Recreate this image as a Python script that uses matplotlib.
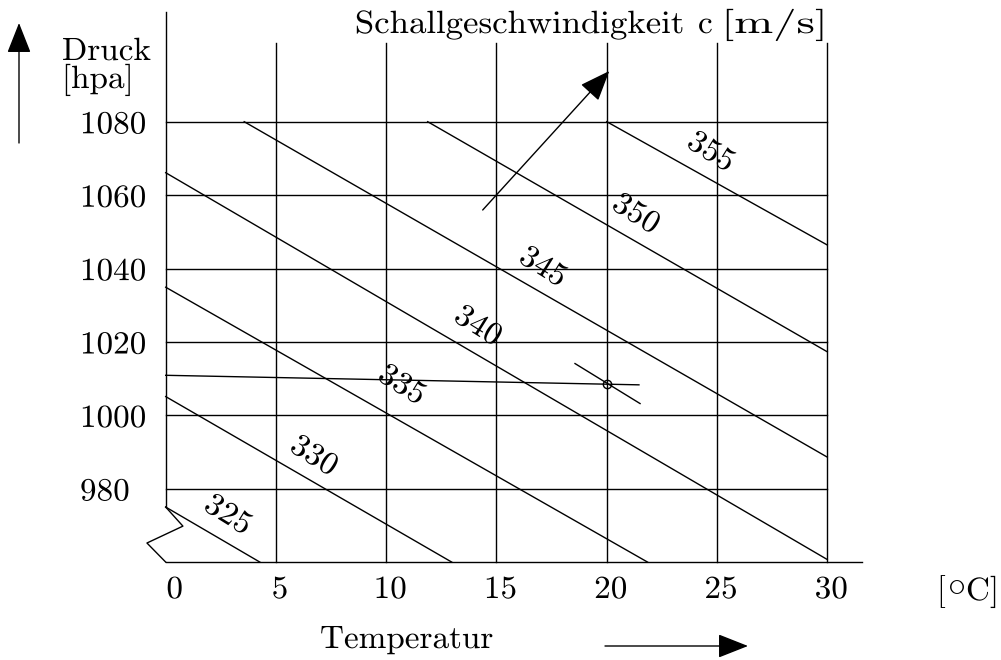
import matplotlib
matplotlib.use('Agg')
import matplotlib.pyplot as plt
from matplotlib import patheffects
from matplotlib.transforms import Affine2D

plt.rcParams['font.family'] = ['cmr10', 'DejaVu Serif']
plt.rcParams['mathtext.fontset'] = 'cm'
plt.rcParams['axes.unicode_minus'] = False

# ---------------- data ----------------
temp_ticks = [0, 5, 10, 15, 20, 25, 30]
temp_labels = ['0', '5', '10', '15', '20', '25', '30']
press_ticks = [980, 1000, 1020, 1040, 1060, 1080]
press_labels = ['980', '1000', '1020', '1040', '1060', '1080']

speeds = [325, 330, 335, 340, 345, 350, 355]
iso_start_T = [0.0, 0.0, 0.0, 0.0, 3.56, 11.88, 20.0]
iso_start_p = [975.0, 1005.1, 1034.9, 1066.1, 1080.0, 1080.0, 1080.0]
iso_end_T = [4.27, 12.97, 21.85, 30.0, 30.0, 30.0, 30.0]
iso_end_p = [960.0, 960.0, 960.0, 960.7, 988.6, 1017.3, 1046.4]

meas_T = 20.0
meas_p = 1008.4
ref_line_T = [0.0, 21.46]
ref_line_p = [1010.9, 1008.3]
meas_seg_T = [18.56, 21.51]
meas_seg_p = [1014.1, 1003.2]

break_T = [0.0, 0.78, -0.85, 0.0]
break_p = [975.0, 969.8, 965.2, 960.0]

T_min, T_max = 0, 30
p_min, p_max = 960, 1080

# ---------------- layout helpers ----------------
X0, XS = 165.7, 22.053      # pixel of T=0, px per degC
Y0, YS = 121.7, 3.67        # pixel (from top) of p=1080, px per hPa
W, H = 1001, 660


def px(x, y):
    return ((x - X0) / XS, p_max - (y - Y0) / YS)


class Stretch(patheffects.AbstractPathEffect):
    def __init__(self, sx=1.0, anchor='center'):
        super().__init__()
        self.sx = sx
        self.anchor = anchor

    def draw_path(self, renderer, gc, tpath, affine, rgbFace=None):
        ext = tpath.get_extents()
        if self.anchor == 'left':
            c = ext.x0
        elif self.anchor == 'right':
            c = ext.x1
        else:
            c = 0.5 * (ext.x0 + ext.x1)
        tr = Affine2D().translate(-c, 0).scale(self.sx, 1).translate(c, 0) + affine
        renderer.draw_path(gc, tpath, tr, rgbFace)


FS = 23.2
SX = 1.03
LW = 1.0
fig = plt.figure(figsize=(W / 100, H / 100), dpi=100)
ax = fig.add_axes([0, 0, 1, 1])
ax.set_xlim(px(0, 0)[0], px(W, 0)[0])
ax.set_ylim(px(0, H)[1], px(0, 0)[1])
ax.axis('off')

# grid
top_first = px(0, 12)[1]
top_other = px(0, 43)[1]
for t in temp_ticks:
    if t == T_min:
        ax.plot([t, t], [break_p[0], top_first], color='black', lw=LW)
    else:
        ax.plot([t, t], [p_min, top_other], color='black', lw=LW)
for p in press_ticks:
    ax.plot([T_min, T_max], [p, p], color='black', lw=LW)
ax.plot([T_min, px(862, 0)[0]], [p_min, p_min], color='black', lw=LW)
ax.plot(break_T, break_p, color='black', lw=LW)

# isolines of speed of sound
for c, t0, p0, t1, p1 in zip(speeds, iso_start_T, iso_start_p, iso_end_T, iso_end_p):
    ax.plot([t0, t1], [p0, p1], color='black', lw=LW)

# label positions for isolines (pixel centres)
label_px = [(228, 515), (314, 456), (402, 385), (478, 326), (543, 267), (636, 214), (711, 152)]
for c, (lx, ly) in zip(speeds, label_px):
    tx, ty = px(lx, ly)
    ax.text(tx, ty, str(c), fontsize=FS, rotation=-32, rotation_mode='anchor',
            ha='center', va='center', path_effects=[Stretch(SX, 'center')])

# measurement
ax.plot(ref_line_T, ref_line_p, color='black', lw=LW)
ax.plot(meas_seg_T, meas_seg_p, color='black', lw=LW)
ax.plot([meas_T], [meas_p], marker='o', ms=6, mfc='none', mec='black', mew=1.0)

# tick labels
for t, lab in zip(temp_ticks, temp_labels):
    off = 9 if t == 0 else 4
    x, y = px(X0 + t * XS + off, 598)
    ax.text(x, y, lab, fontsize=FS, ha='center', va='baseline',
            path_effects=[Stretch(SX, 'center')])
for p, lab in zip(press_ticks, press_labels):
    x, y = px(80, Y0 + (p_max - p) * YS + 11.6)
    ax.text(x, y, lab, fontsize=FS, ha='left', va='baseline',
            path_effects=[Stretch(SX, 'left')])

# axis titles
x, y = px(62, 60)
ax.text(x, y, 'Druck', fontsize=FS, ha='left', va='baseline', path_effects=[Stretch(SX, 'left')])
x, y = px(62, 88)
ax.text(x, y, '[hpa]', fontsize=FS, ha='left', va='baseline', path_effects=[Stretch(SX, 'left')])

# unit of temperature: "[", a large degree ring, "C]"
x, y = px(936, 600)
ax.text(x, y, '[', fontsize=FS, ha='left', va='baseline')
x, y = px(956, 585)
ax.text(x, y, r'$\circ$', fontsize=26, ha='center', va='center')
x, y = px(966, 600)
ax.text(x, y, 'C]', fontsize=FS, ha='left', va='baseline', path_effects=[Stretch(SX, 'left')])

x, y = px(320, 648)
ax.text(x, y, 'Temperatur', fontsize=FS, ha='left', va='baseline', path_effects=[Stretch(SX, 'left')])

x, y = px(355, 33)
ax.text(x, y, 'Schallgeschwindigkeit', fontsize=FS, ha='left', va='baseline', path_effects=[Stretch(1.08, 'left')])
x, y = px(698, 33)
ax.text(x, y, 'c', fontsize=FS, ha='left', va='baseline', path_effects=[Stretch(SX, 'left')])
x, y = px(723, 33)
ax.text(x, y, '[m/s]', fontsize=FS, ha='left', va='baseline', path_effects=[Stretch(1.45, 'left')])

# arrows
def arrow(x0, y0, x1, y1, L=19, Wd=7.5):
    ax.annotate('', xy=px(x1, y1), xytext=px(x0, y0),
                arrowprops=dict(arrowstyle=f'-|>,head_length={L},head_width={Wd}',
                                mutation_scale=1, lw=LW, color='black',
                                shrinkA=0, shrinkB=0))

arrow(19, 143, 19, 23)
arrow(605, 646, 748, 646)
arrow(482.7, 210, 609.3, 71)

fig.savefig('out.png', dpi=100)
